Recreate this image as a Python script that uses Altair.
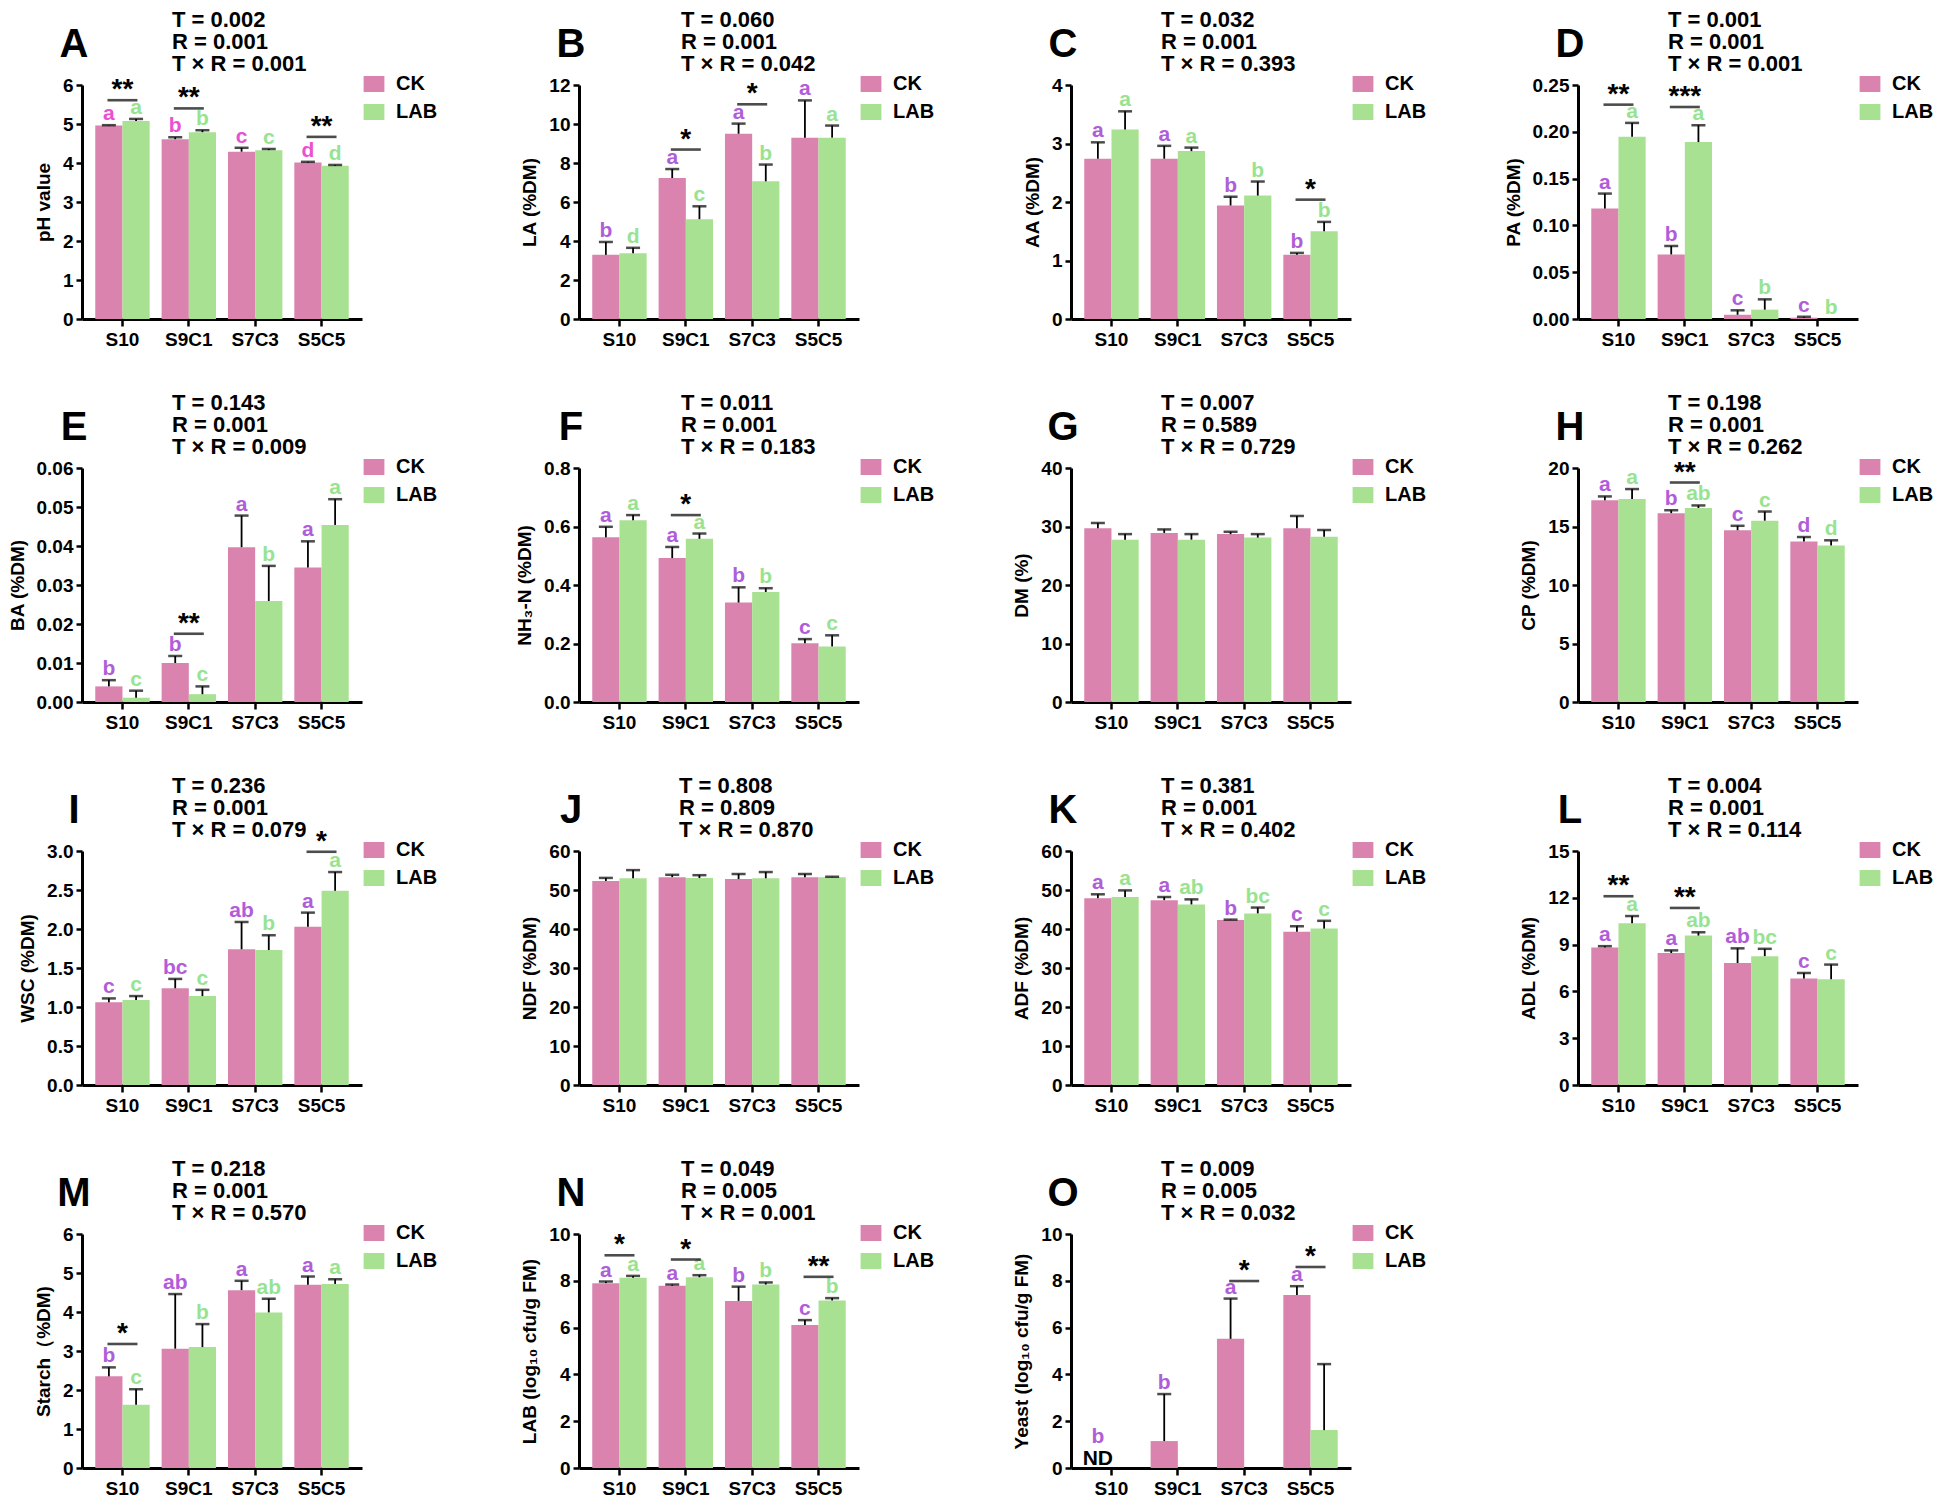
import altair as alt
import pandas as pd

categories = ["S10", "S9C1", "S7C3", "S5C5"]
treatments = ["CK", "LAB"]

A = dict(tag="A", ytitle="pH value", ticks=[0, 1, 2, 3, 4, 5, 6], fmt="d",
         stats=["T = 0.002", "R = 0.001", "T × R = 0.001"],
         ck=[4.96, 4.61, 4.29, 4.01], ck_up=[4.97, 4.66, 4.39, 4.03],
         lab=[5.08, 4.79, 4.33, 3.93], lab_up=[5.13, 4.84, 4.36, 3.95],
         ck_let=["a", "b", "c", "d"], lab_let=["a", "b", "c", "d"],
         sig_cat=["S10", "S9C1", "S5C5"], sig_y=[5.61, 5.40, 4.67], sig_txt=["**", "**", "**"])

B = dict(tag="B", ytitle="LA (%DM)", ticks=[0, 2, 4, 6, 8, 10, 12], fmt="d",
         stats=["T = 0.060", "R = 0.001", "T × R = 0.042"],
         ck=[3.29, 7.23, 9.50, 9.30], ck_up=[3.95, 7.69, 10.02, 11.21],
         lab=[3.37, 5.12, 7.06, 9.30], lab_up=[3.65, 5.78, 7.92, 9.92],
         ck_let=["b", "a", "a", "a"], lab_let=["d", "c", "b", "a"],
         sig_cat=["S9C1", "S7C3"], sig_y=[8.69, 11.01], sig_txt=["*", "*"])

C = dict(tag="C", ytitle="AA (%DM)", ticks=[0, 1, 2, 3, 4], fmt="d",
         stats=["T = 0.032", "R = 0.001", "T × R = 0.393"],
         ck=[2.74, 2.74, 1.94, 1.10], ck_up=[3.02, 2.96, 2.09, 1.13],
         lab=[3.24, 2.87, 2.11, 1.50], lab_up=[3.55, 2.93, 2.35, 1.66],
         ck_let=["a", "a", "b", "b"], lab_let=["a", "a", "b", "b"],
         sig_cat=["S5C5"], sig_y=[2.04], sig_txt=["*"])

D = dict(tag="D", ytitle="PA (%DM)", ticks=[0, 0.05, 0.10, 0.15, 0.20, 0.25], fmt=".2f",
         stats=["T = 0.001", "R = 0.001", "T × R = 0.001"],
         ck=[0.118, 0.069, 0.0045, 0.0014], ck_up=[0.134, 0.078, 0.0093, 0.0024],
         lab=[0.1946, 0.189, 0.010, 0.0], lab_up=[0.2095, 0.207, 0.021, 0.0],
         ck_let=["a", "b", "c", "c"], lab_let=["a", "a", "b", "b"],
         sig_cat=["S10", "S9C1"], sig_y=[0.229, 0.2265], sig_txt=["**", "***"])

E = dict(tag="E", ytitle="BA (%DM)", ticks=[0, 0.01, 0.02, 0.03, 0.04, 0.05, 0.06], fmt=".2f",
         stats=["T = 0.143", "R = 0.001", "T × R = 0.009"],
         ck=[0.0040, 0.0100, 0.0397, 0.0345], ck_up=[0.0056, 0.0118, 0.0478, 0.0412],
         lab=[0.0011, 0.0020, 0.0259, 0.0454], lab_up=[0.0029, 0.0040, 0.0349, 0.0520],
         ck_let=["b", "b", "a", "a"], lab_let=["c", "c", "b", "a"],
         sig_cat=["S9C1"], sig_y=[0.0175], sig_txt=["**"])

F = dict(tag="F", ytitle="NH₃-N (%DM)", ticks=[0, 0.2, 0.4, 0.6, 0.8], fmt=".1f",
         stats=["T = 0.011", "R = 0.001", "T × R = 0.183"],
         ck=[0.563, 0.492, 0.340, 0.201], ck_up=[0.599, 0.530, 0.392, 0.215],
         lab=[0.621, 0.558, 0.376, 0.190], lab_up=[0.639, 0.576, 0.389, 0.228],
         ck_let=["a", "a", "b", "c"], lab_let=["a", "a", "b", "c"],
         sig_cat=["S9C1"], sig_y=[0.639], sig_txt=["*"])

G = dict(tag="G", ytitle="DM (%)", ticks=[0, 10, 20, 30, 40], fmt="d",
         stats=["T = 0.007", "R = 0.589", "T × R = 0.729"],
         ck=[29.7, 28.9, 28.7, 29.7], ck_up=[30.6, 29.5, 29.1, 31.8],
         lab=[27.75, 27.75, 28.1, 28.25], lab_up=[28.7, 28.7, 28.7, 29.4],
         ck_let=["", "", "", ""], lab_let=["", "", "", ""],
         sig_cat=[], sig_y=[], sig_txt=[])

H = dict(tag="H", ytitle="CP (%DM)", ticks=[0, 5, 10, 15, 20], fmt="d",
         stats=["T = 0.198", "R = 0.001", "T × R = 0.262"],
         ck=[17.24, 16.14, 14.68, 13.71], ck_up=[17.57, 16.39, 15.06, 14.10],
         lab=[17.35, 16.58, 15.50, 13.38], lab_up=[18.20, 16.80, 16.28, 13.82],
         ck_let=["a", "b", "c", "d"], lab_let=["a", "ab", "c", "d"],
         sig_cat=["S9C1"], sig_y=[18.76], sig_txt=["**"])

I = dict(tag="I", ytitle="WSC (%DM)", ticks=[0, 0.5, 1.0, 1.5, 2.0, 2.5, 3.0], fmt=".1f",
         stats=["T = 0.236", "R = 0.001", "T × R = 0.079"],
         ck=[1.06, 1.24, 1.74, 2.03], ck_up=[1.11, 1.36, 2.09, 2.21],
         lab=[1.09, 1.14, 1.73, 2.49], lab_up=[1.14, 1.22, 1.92, 2.73],
         ck_let=["c", "bc", "ab", "a"], lab_let=["c", "c", "b", "a"],
         sig_cat=["S5C5"], sig_y=[2.99], sig_txt=["*"])

J = dict(tag="J", ytitle="NDF (%DM)", ticks=[0, 10, 20, 30, 40, 50, 60], fmt="d",
         stats=["T = 0.808", "R = 0.809", "T × R = 0.870"],
         ck=[52.3, 53.3, 52.8, 53.3], ck_up=[53.1, 53.9, 54.1, 54.1],
         lab=[53.0, 53.06, 53.0, 53.3], lab_up=[55.1, 53.8, 54.6, 53.4],
         ck_let=["", "", "", ""], lab_let=["", "", "", ""],
         sig_cat=[], sig_y=[], sig_txt=[])

K = dict(tag="K", ytitle="ADF  (%DM)", ticks=[0, 10, 20, 30, 40, 50, 60], fmt="d",
         stats=["T = 0.381", "R = 0.001", "T × R = 0.402"],
         ck=[47.9, 47.4, 42.3, 39.3], ck_up=[48.9, 48.2, 42.4, 40.7],
         lab=[48.2, 46.3, 44.0, 40.1], lab_up=[49.9, 47.6, 45.5, 42.1],
         ck_let=["a", "a", "b", "c"], lab_let=["a", "ab", "bc", "c"],
         sig_cat=[], sig_y=[], sig_txt=[])

L = dict(tag="L", ytitle="ADL (%DM)", ticks=[0, 3, 6, 9, 12, 15], fmt="d",
         stats=["T = 0.004", "R = 0.001", "T × R = 0.114"],
         ck=[8.82, 8.46, 7.82, 6.83], ck_up=[8.90, 8.63, 8.76, 7.18],
         lab=[10.37, 9.58, 8.26, 6.78], lab_up=[10.83, 9.79, 8.73, 7.72],
         ck_let=["a", "a", "ab", "c"], lab_let=["a", "ab", "bc", "c"],
         sig_cat=["S10", "S9C1"], sig_y=[12.1, 11.35], sig_txt=["**", "**"])

M = dict(tag="M", ytitle="Starch（%DM)", ticks=[0, 1, 2, 3, 4, 5, 6], fmt="d",
         stats=["T = 0.218", "R = 0.001", "T × R = 0.570"],
         ck=[2.35, 3.06, 4.56, 4.70], ck_up=[2.58, 4.46, 4.80, 4.91],
         lab=[1.62, 3.10, 3.99, 4.72], lab_up=[2.02, 3.69, 4.34, 4.84],
         ck_let=["b", "ab", "a", "a"], lab_let=["c", "b", "ab", "a"],
         sig_cat=["S10"], sig_y=[3.18], sig_txt=["*"])

N = dict(tag="N", ytitle="LAB (log₁₀ cfu/g FM)", ticks=[0, 2, 4, 6, 8, 10], fmt="d",
         stats=["T = 0.049", "R = 0.005", "T × R = 0.001"],
         ck=[7.90, 7.79, 7.14, 6.11], ck_up=[7.97, 7.84, 7.75, 6.32],
         lab=[8.13, 8.15, 7.84, 7.16], lab_up=[8.21, 8.24, 7.93, 7.26],
         ck_let=["a", "a", "b", "c"], lab_let=["a", "a", "b", "b"],
         sig_cat=["S10", "S9C1", "S5C5"], sig_y=[9.09, 8.91, 8.17], sig_txt=["*", "*", "**"])

O = dict(tag="O", ytitle="Yeast (log₁₀ cfu/g FM)", ticks=[0, 2, 4, 6, 8, 10], fmt="d",
         stats=["T = 0.009", "R = 0.005", "T × R = 0.032"],
         ck=[0.0, 1.15, 5.52, 7.39], ck_up=[0.0, 3.16, 7.24, 7.77],
         lab=[0.0, 0.0, 0.0, 1.62], lab_up=[0.0, 0.0, 0.0, 4.44],
         ck_let=["b", "b", "a", "a"], lab_let=["", "", "", ""],
         ck_nd=["ND", "", "", ""],
         sig_cat=["S7C3", "S5C5"], sig_y=[7.99, 8.59], sig_txt=["*", "*"])

panels = [A, B, C, D, E, F, G, H, I, J, K, L, M, N, O]

# ---- styles ----
CK_COLOR = "#D983AE"
LAB_COLOR = "#A9E192"
CK_LET_PURPLE = "#B05DD9"
CK_LET_MAGENTA = "#EC4FD1"
LAB_LET_GREEN = "#98E391"
FONT = "Liberation Sans, Arial, sans-serif"
W, HGT = 280, 234
STATS_X = {"B": 102, "F": 102, "J": 100, "N": 102}


def build(p):
    n = len(categories)
    df = pd.DataFrame({
        "cat": categories * 2,
        "grp": ["CK"] * n + ["LAB"] * n,
        "mean": p["ck"] + p["lab"],
        "up": p["ck_up"] + p["lab_up"],
        "let": p["ck_let"] + p["lab_let"],
        "nd": p.get("ck_nd", [""] * n) + [""] * n,
    })
    ymax = p["ticks"][-1]
    yscale = alt.Scale(domain=[0, ymax], nice=False, zero=True)
    yaxis = alt.Axis(values=p["ticks"], format=p["fmt"], title=p["ytitle"],
                     tickSize=6, labelPadding=3, titlePadding=9)
    xenc = alt.X("cat:N", scale=alt.Scale(domain=categories, paddingInner=0.18, paddingOuter=0.2),
                 axis=alt.Axis(title=None, labelAngle=0, labelPadding=4, tickSize=7))
    xoff = alt.XOffset("grp:N", scale=alt.Scale(domain=treatments, paddingInner=0, paddingOuter=0))

    def Y(field):
        return alt.Y(f"{field}:Q", scale=yscale, axis=yaxis, title=p["ytitle"])

    base = alt.Chart(df)
    bars = base.mark_bar().encode(
        x=xenc, xOffset=xoff, y=Y("mean"),
        color=alt.Color("grp:N", scale=alt.Scale(domain=treatments, range=[CK_COLOR, LAB_COLOR]),
                        legend=alt.Legend(title=None, orient="none", legendX=W + 2, legendY=-11,
                                          symbolType="M-1.3,-1H1.3V1H-1.3Z", symbolSize=256,
                                          symbolStrokeWidth=0, symbolOpacity=1,
                                          labelFont=FONT, labelFontSize=20, labelFontWeight="bold",
                                          labelColor="black", rowPadding=8, labelOffset=12, padding=0)),
    )
    err = base.transform_filter("datum.up > datum.mean")
    stems = err.mark_rule(color="black", strokeWidth=1.8).encode(
        x=xenc, xOffset=xoff, y=Y("mean"), y2="up:Q")
    caps = err.mark_tick(color="black", thickness=2.5, size=14).encode(
        x=xenc, xOffset=xoff, y=Y("up"))
    layers = [bars, stems, caps]

    ck_col = CK_LET_MAGENTA if p["tag"] == "A" else CK_LET_PURPLE
    txt = dict(font=FONT, fontSize=21, fontWeight="bold", baseline="alphabetic", align="center")
    if any(p["ck_let"]) or any(p["lab_let"]):
        layers.append(base.transform_filter("datum.grp == 'CK' && datum.let != '' && datum.nd == ''")
                      .mark_text(color=ck_col, dy=-5, **txt)
                      .encode(x=xenc, xOffset=xoff, y=Y("up"), text="let:N"))
        layers.append(base.transform_filter("datum.grp == 'LAB' && datum.let != ''")
                      .mark_text(color=LAB_LET_GREEN, dy=-5, **txt)
                      .encode(x=xenc, xOffset=xoff, y=Y("up"), text="let:N"))
    if any(df["nd"]):
        layers.append(base.transform_filter("datum.nd != ''")
                      .mark_text(color="black", dy=-3, **txt)
                      .encode(x=xenc, xOffset=xoff, y=Y("up"), text="nd:N"))
        layers.append(base.transform_filter("datum.nd != ''")
                      .mark_text(color=ck_col, dy=-25, **txt)
                      .encode(x=xenc, xOffset=xoff, y=Y("up"), text="let:N"))
    if p["sig_cat"]:
        sig = alt.Chart(pd.DataFrame({"cat": p["sig_cat"], "sy": p["sig_y"], "st": p["sig_txt"]}))
        layers.append(sig.mark_tick(color="black", thickness=2.6, size=30)
                      .encode(x=xenc, y=Y("sy")))
        layers.append(sig.mark_text(color="black", dy=-2, font=FONT, fontSize=28,
                                    fontWeight="bold", baseline="alphabetic", align="center")
                      .encode(x=xenc, y=Y("sy"), text="st:N"))
    one = alt.Chart(pd.DataFrame({"k": [0]}))
    layers.append(one.mark_text(font=FONT, fontSize=22, fontWeight="bold", align="left",
                                baseline="middle", lineHeight=22, color="black")
                  .encode(x=alt.value(STATS_X.get(p["tag"], 90)), y=alt.value(-65),
                          text=alt.value(p["stats"])))
    layers.append(one.mark_text(font=FONT, fontSize=40, fontWeight="bold", align="center",
                                baseline="middle", color="black")
                  .encode(x=alt.value(-8), y=alt.value(-40), text=alt.value(p["tag"])))
    return alt.layer(*layers).properties(width=W, height=HGT)


charts = [build(p) for p in panels]

chart = (
    alt.concat(*charts, columns=4, spacing={"row": 43, "column": 77})
    .resolve_scale(color="independent")
    .resolve_legend(color="independent")
    .properties(padding={"left": 0, "top": 1, "right": 0, "bottom": 0})
    .configure_view(stroke=None)
    .configure_axis(domainColor="black", domainWidth=3, tickColor="black", tickWidth=2.5,
                    labelFont=FONT, labelFontSize=19, labelFontWeight="bold", labelColor="black",
                    titleFont=FONT, titleFontSize=19, titleFontWeight="bold", titleColor="black",
                    grid=False)
)

chart.save("out.html", embed_options={"renderer": "svg", "actions": False})
